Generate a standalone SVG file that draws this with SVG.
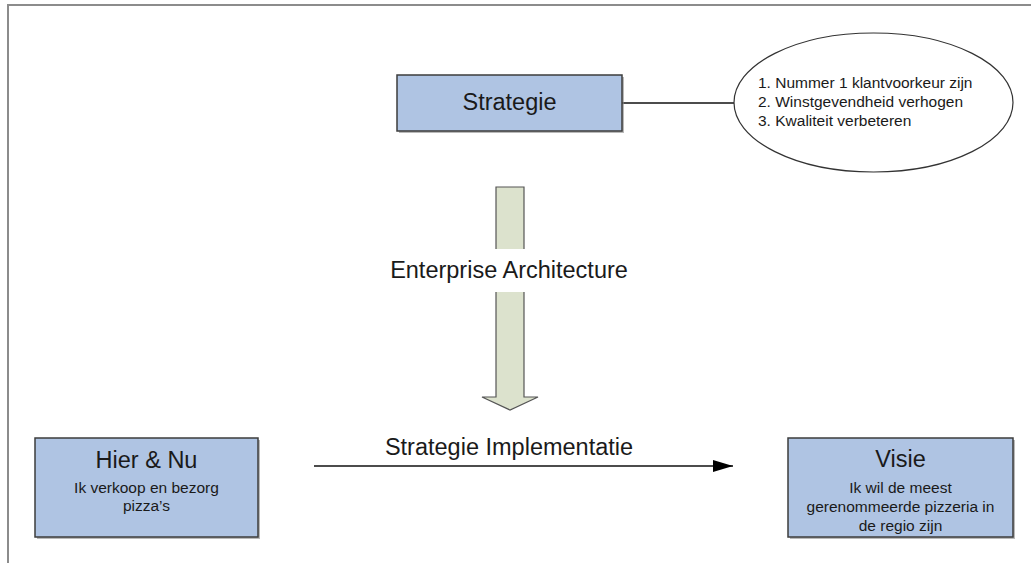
<svg xmlns="http://www.w3.org/2000/svg" width="1031" height="563" viewBox="0 0 1031 563">
  <style>
    text { font-family: "Liberation Sans", Arial, sans-serif; fill: #1a1a1a; }
    .box { fill: #AFC4E3; stroke: #3d3d3d; stroke-width: 1.5; }
    .shadow { fill: #8a8a8a; opacity: 0.6; }
    .title { font-size: 23.5px; text-anchor: middle; }
    .sub { font-size: 15.5px; text-anchor: middle; }
    .list { font-size: 15.5px; }
    .lbl { font-size: 23.5px; text-anchor: middle; }
    .conn { stroke: #111; stroke-width: 1.3; fill: none; }
    .frame { stroke: #8c8c8c; stroke-width: 2; fill: none; }
  </style>
  <defs>
    <marker id="arrow" markerWidth="20" markerHeight="12" refX="20" refY="6" orient="auto" markerUnits="userSpaceOnUse">
      <path d="M0,0 L20,6 L0,12 Z" fill="#000"/>
    </marker>
  </defs>
  <rect width="1031" height="563" fill="#fff"/>
  <path class="frame" d="M8,563 L8,5 L1031,5"/>

  <g id="connectors">
    <line class="conn" x1="622" y1="103" x2="734" y2="103"/>
    <line class="conn" x1="314" y1="466" x2="733" y2="466" marker-end="url(#arrow)"/>
    <text class="lbl" x="509" y="455">Strategie Implementatie</text>
    <g id="ea-arrow">
      <path d="M496,187 L524,187 L524,397 L538,397 L510,410 L482,397 L496,397 Z" fill="#DCE2CD" stroke="#555" stroke-width="1.2"/>
      <rect x="385" y="249" width="250" height="43" fill="#fff"/>
      <text class="lbl" x="509" y="278">Enterprise Architecture</text>
    </g>
  </g>

  <g id="strategie">
    <rect class="shadow" x="399" y="77" width="225" height="56"/>
    <rect class="box" x="397" y="75" width="225" height="56"/>
    <text class="title" x="509.5" y="110">Strategie</text>
  </g>

  <g id="doelen">
    <ellipse cx="873.5" cy="102.5" rx="139.5" ry="69.5" fill="#fff" stroke="#333" stroke-width="1.2"/>
    <text class="list" x="758" y="88">1. Nummer 1 klantvoorkeur zijn</text>
    <text class="list" x="758" y="107">2. Winstgevendheid verhogen</text>
    <text class="list" x="758" y="125.5">3. Kwaliteit verbeteren</text>
  </g>

  <g id="hier-nu">
    <rect class="shadow" x="37" y="440" width="223" height="99"/>
    <rect class="box" x="35" y="438" width="223" height="99"/>
    <text class="title" x="146.5" y="468">Hier &amp; Nu</text>
    <text class="sub" x="146.5" y="493">Ik verkoop en bezorg</text>
    <text class="sub" x="146.5" y="511">pizza’s</text>
  </g>

  <g id="visie">
    <rect class="shadow" x="790" y="440" width="225" height="99"/>
    <rect class="box" x="788" y="438" width="225" height="99"/>
    <text class="title" x="900.5" y="467">Visie</text>
    <text class="sub" x="900.5" y="493">Ik wil de meest</text>
    <text class="sub" x="900.5" y="512">gerenommeerde pizzeria in</text>
    <text class="sub" x="900.5" y="531">de regio zijn</text>
  </g>
</svg>
